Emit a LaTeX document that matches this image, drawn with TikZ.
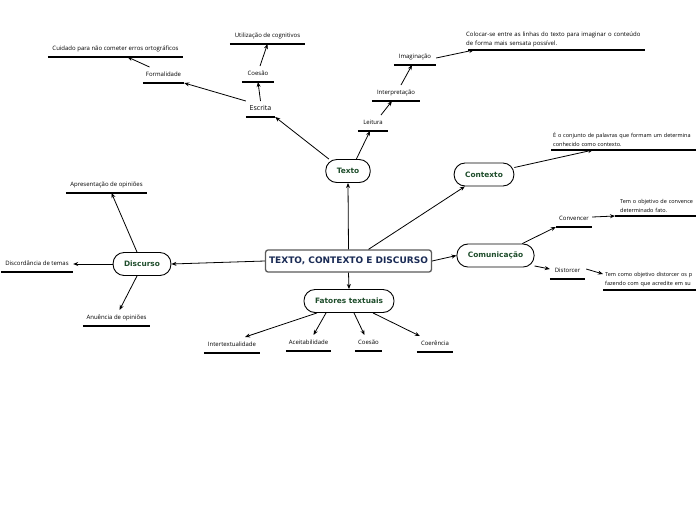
\documentclass[tikz,border=0pt]{standalone}
\usepackage{fontspec}
\setmainfont{Open Sans}
\newfontfamily\vfont{DejaVu Sans}
\usetikzlibrary{arrows.meta}
\definecolor{ngreen}{HTML}{1E4D2B}
\definecolor{nnavy}{HTML}{1A2B55}
\definecolor{bgray}{HTML}{5A5A5A}
\tikzset{
 mainbox/.style={draw=bgray, line width=1.3pt, rounded corners=2.5pt, fill=white,
   font=\vfont\bfseries\fontsize{9}{10}\selectfont, text=nnavy, inner xsep=3.5pt, minimum height=22pt},
 pill/.style={draw=black, line width=0.9pt, rounded corners=11pt, fill=white,
   font=\vfont\bfseries\fontsize{7.4}{8}\selectfont, text=ngreen, minimum height=23pt, inner xsep=11pt},
 leaf/.style={font=\fontsize{6}{7}\selectfont, anchor=south, inner xsep=0pt, inner ysep=5pt,
   text height=4.3pt, text depth=1.3pt},
 note/.style={font=\fontsize{6}{8.5}\selectfont, anchor=south west, align=left, inner xsep=2pt, inner ysep=3pt},
 edgenote/.style={note, font=\fontsize{5.5}{9}\selectfont},
 uline/.style={line width=1.1pt},
 arr/.style={-{Stealth[length=5pt,width=4pt]}, line width=0.8pt},
}
\begin{document}
\begin{tikzpicture}[x=1pt,y=-1pt]
\useasboundingbox (0,0) rectangle (696,520);
\fill[white] (0,0) rectangle (696,520);
\clip (0,0) rectangle (696,520);
\coordinate (rt) at (700,0);
% main and pills
\node[mainbox] (main) at (348.5,261) {TEXTO, CONTEXTO E DISCURSO};
\node[pill] (texto) at (348,171) {Texto};
\node[pill] (contexto) at (484,174.5) {Contexto};
\node[pill] (comunic) at (495.5,255.5) {Comunicação};
\node[pill] (discurso) at (142,264) {Discurso};
\node[pill] (fatores) at (349,301) {Fatores textuais};
% leaves
\node[leaf, minimum width=29pt, font=\fontsize{7}{8}\selectfont] (escrita) at (260.5,117) {Escrita};
\node[leaf, minimum width=41pt] (formal) at (163.5,83) {Formalidade};
\node[leaf, minimum width=135pt] (cuidado) at (115.5,57) {Cuidado para não cometer erros ortográficos};
\node[leaf, minimum width=32pt] (coesaoa) at (258,82) {Coesão};
\node[leaf, minimum width=75pt] (util) at (267.5,44) {Utilização de cognitivos};
\node[leaf, minimum width=30pt] (leitura) at (373,131) {Leitura};
\node[leaf, minimum width=48pt] (interp) at (396,101) {Interpretação};
\node[leaf, minimum width=42pt] (imag) at (415,65) {Imaginação};
\node[leaf, minimum width=36pt] (convencer) at (574,227) {Convencer};
\node[leaf, minimum width=35pt] (distorcer) at (567.5,279) {Distorcer};
\node[leaf, minimum width=81pt] (apres) at (106.5,193) {Apresentação de opiniões};
\node[leaf, minimum width=72pt] (discord) at (37,272) {Discordância de temas};
\node[leaf, minimum width=67pt] (anuencia) at (116.5,326) {Anuência de opiniões};
\node[leaf, minimum width=56pt] (intertext) at (232,353) {Intertextualidade};
\node[leaf, minimum width=45pt] (aceit) at (308.5,351) {Aceitabilidade};
\node[leaf, minimum width=27pt] (coesaob) at (368.5,351) {Coesão};
\node[leaf, minimum width=36pt] (coerencia) at (435,352) {Coerência};
% notes
\node[note, text width=175pt] (colocar) at (464,50) {Colocar-se entre as linhas do texto para imaginar o conteúdo\\de forma mais sensata possível.};
\node[edgenote, text width=150pt] (ctxtext) at (551,150) {É o conjunto de palavras que formam um determina\\conhecido como contexto.};
\node[edgenote, text width=100pt] (convtext) at (618,216) {Tem o objetivo de convence\\determinado fato.};
\node[edgenote, text width=100pt] (disttext) at (603,290) {Tem como objetivo distorcer os p\\fazendo com que acredite em su};
% underlines
\foreach \n in {escrita,formal,cuidado,coesaoa,util,leitura,interp,imag,convencer,distorcer,apres,discord,anuencia,intertext,aceit,coesaob,coerencia}
  \draw[uline] (\n.south west) -- (\n.south east);
\draw[uline] ([xshift=4pt]colocar.south west) -- ([xshift=2pt]colocar.south east);
\foreach \n in {ctxtext,disttext}
  \draw[uline] (\n.south west) -- (\n.south west -| rt);
\draw[uline] ([xshift=-3pt]convtext.south west) -- (convtext.south west -| rt);
% connectors
\draw[arr] (main.north) -- (texto.south);
\draw[arr] ([xshift=20pt]main.north) -- (contexto.-148);
\draw[arr] (main.east) -- (comunic.west);
\draw[arr] (main.west) -- (discurso.east);
\draw[arr] (main.south) -- (fatores.north);
\draw[arr] (texto.148) -- (escrita.south east);
\draw[arr] (texto.55) -- ([xshift=-3pt]leitura.south);
\draw[arr] (escrita.north west) -- (formal.south east);
\draw[arr] ([xshift=-14pt]formal.north) -- ([xshift=12pt]cuidado.south);
\draw[arr] (escrita.north) -- (coesaoa.south);
\draw[arr] ([xshift=2pt]coesaoa.north) -- (util.south);
\draw[arr] ([xshift=8pt]leitura.north) -- ([xshift=-4pt]interp.south);
\draw[arr] ([xshift=5pt]interp.north) -- ([xshift=-3pt]imag.south);
\draw[arr] ([yshift=-1pt]imag.east) -- ([xshift=10pt]colocar.south west);
\draw[arr] (contexto.13) -- ([xshift=42pt]ctxtext.south west);
\draw[arr] (comunic.24) -- (convencer.south west);
\draw[arr] ([yshift=2pt]convencer.east) -- ([xshift=-3pt]convtext.south west);
\draw[arr] (comunic.-15) -- ([yshift=2pt]distorcer.west);
\draw[arr] ([xshift=1pt,yshift=2pt]distorcer.east) -- ([yshift=16pt]disttext.south west);
\draw[arr] ([xshift=-5pt]discurso.north) -- ([xshift=5pt]apres.south);
\draw[arr] (discurso.west) -- (discord.east);
\draw[arr] ([xshift=-5pt]discurso.south) -- ([xshift=3pt]anuencia.north);
\draw[arr] ([xshift=-32pt]fatores.south) -- ([xshift=13pt]intertext.north);
\draw[arr] ([xshift=-23pt]fatores.south) -- ([xshift=5pt]aceit.north);
\draw[arr] ([xshift=5pt]fatores.south) -- ([xshift=-4pt]coesaob.north);
\draw[arr] ([xshift=24pt]fatores.south) -- ([xshift=3pt]coerencia.north west);
\end{tikzpicture}
\end{document}
